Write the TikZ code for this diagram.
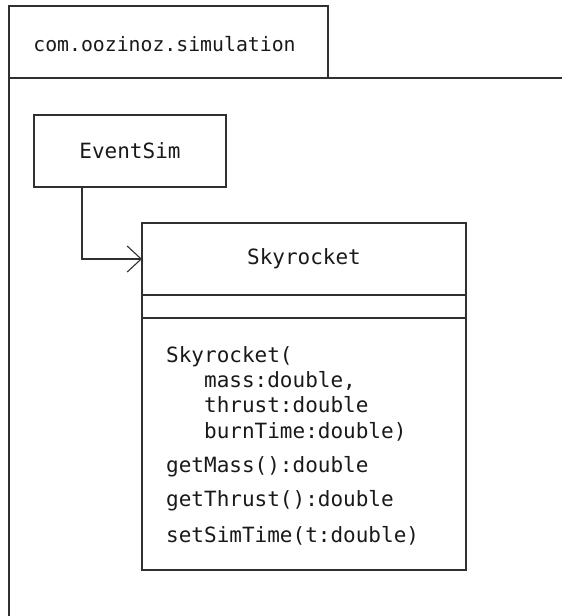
\documentclass[tikz,border=0pt]{standalone}
\usepackage{fontspec}
\setmonofont{DejaVu Sans Mono}
\usetikzlibrary{arrows.meta}
\definecolor{ln}{HTML}{303030}
\begin{document}
\begin{tikzpicture}[x=1pt,y=-1pt,
  lineS/.style={draw=ln,line width=1.1pt},
  umltxt/.style={font=\ttfamily\fontsize{21}{25}\selectfont,text=black!90,inner sep=0pt},
  pkgtxt/.style={font=\ttfamily\fontsize{19.8}{24}\selectfont,text=black!90,inner sep=0pt}]
\useasboundingbox (0,0) rectangle (562,616);
% package
\draw[lineS] (9,616) -- (9,6) -- (328,6) -- (328,78);
\draw[lineS] (9,78) -- (562,78);
\node[pkgtxt] (pkg) at (164.5,44) {com.oozinoz.simulation};
% EventSim
\node[lineS,minimum width=192pt,minimum height=72pt,inner sep=0pt] (es) at (130,151) {};
\node[umltxt] (estxt) at (es.center) {EventSim};
% Skyrocket
\coordinate (skNW) at (142,223);
\coordinate (skSE) at (466,570);
\draw[lineS] (skNW) rectangle (skSE);
\draw[lineS] (142,295) -- (466,295);
\draw[lineS] (142,318) -- (466,318);
\node[umltxt] (sktitle) at (304,259) {Skyrocket};
\coordinate (skW) at (142,259);
\node[umltxt,anchor=north west,align=left,
  font=\ttfamily\fontsize{21}{25.3}\selectfont] (ops) at (166,346)
  {Skyrocket(\\
   \ \ \ mass:double,\\
   \ \ \ thrust:double\\
   \ \ \ burnTime:double)\\[9.5pt]
   getMass():double\\[8.5pt]
   getThrust():double\\[10.5pt]
   setSimTime(t:double)};
% connector
\draw[lineS,-{Straight Barb[length=14pt,width=26pt,line width=1.1pt]}] (es.south -| 82,0) |- (skW);
\end{tikzpicture}
\end{document}
